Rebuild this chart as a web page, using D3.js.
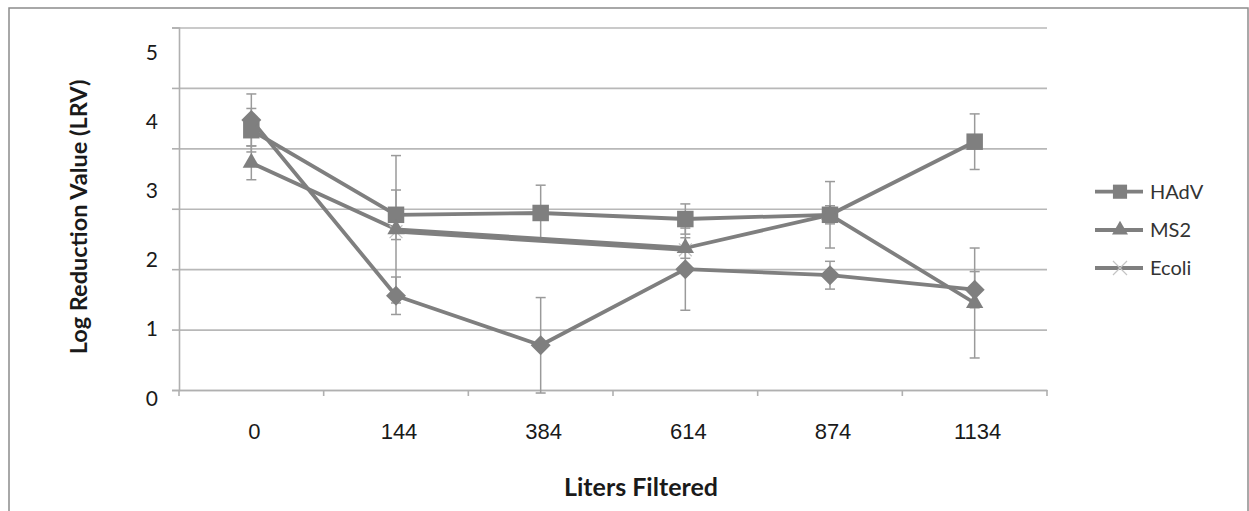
<!DOCTYPE html>
<html>
<head>
<meta charset="utf-8">
<script src="https://cdn.jsdelivr.net/npm/d3@7"></script>
<style>
  body { margin: 0; background: #fff; }
  svg { display: block; font-family: Lato, "Open Sans", sans-serif; }
</style>
</head>
<body>
<div id="chart"></div>
<script>
// Values (units of one gridline step)
const categories = ["0", "144", "384", "614", "874", "1134"];
const hadv = [4.30, 2.90, 2.93, 2.83, 2.90, 4.11];
const hadvErr = [0.36, 0.41, 0.46, 0.25, 0.55, 0.46];
const ms2 = [3.76, 2.66, null, 2.35, 2.90, 1.44];
const ms2Err = [0.28, 1.22, null, 0.17, 0.15, 0.91];
const ecoli = [null, 2.62, null, 2.32, null, null];
// diamond series, not listed in the legend
const series4 = [4.47, 1.56, 0.74, 2.00, 1.90, 1.66];
const series4Err = [0.43, 0.31, 0.79, 0.68, 0.23, 0.30];
const yTickLabels = ["0", "1", "2", "3", "4", "5"];
const legendNames = ["HAdV", "MS2", "Ecoli"];

const width = 1249, height = 511;
const margin = {top: 27.5, right: 202, bottom: 121, left: 179};

const grey = "#7f7f7f";

const svg = d3.select("#chart")
    .append("svg")
    .attr("width", width)
    .attr("height", height);

// chart border
svg.append("rect")
    .attr("x", 9).attr("y", 8)
    .attr("width", 1239).attr("height", 520)
    .attr("fill", "none")
    .attr("stroke", "#8c8c8c")
    .attr("stroke-width", 1.5);

const xScale = d3.scaleBand()
    .domain(categories)
    .range([margin.left, width - margin.right]);

const yScale = d3.scaleLinear()
    .domain([0, 6])
    .range([height - margin.bottom, margin.top]);

// the tick labels sit on their own spacing in the picture
const labelScale = d3.scaleLinear()
    .domain([0, 5])
    .range([398.3, 52.3]);

// gridlines
svg.append("g")
    .attr("class", "grid")
    .attr("transform", `translate(${margin.left},0)`)
    .call(d3.axisLeft(yScale).ticks(6).tickSize(-(width - margin.left - margin.right)).tickFormat(""))
    .call(g => g.select(".domain").remove())
    .call(g => g.selectAll("line").attr("stroke", "#b8b8b8").attr("stroke-width", 1.6));

// small left ticks
svg.append("g")
    .attr("transform", `translate(${margin.left},0)`)
    .call(d3.axisLeft(yScale).ticks(6).tickSize(7).tickFormat(""))
    .call(g => g.select(".domain").attr("stroke", "#b0b0b0").attr("stroke-width", 1.6))
    .call(g => g.selectAll("line").attr("stroke", "#b0b0b0").attr("stroke-width", 1.6));

// y labels
svg.append("g")
    .attr("transform", "translate(158,0)")
    .call(d3.axisLeft(labelScale).tickValues(d3.range(yTickLabels.length)).tickSize(0).tickPadding(0)
        .tickFormat(i => yTickLabels[i]))
    .call(g => g.select(".domain").remove())
    .call(g => g.selectAll("text")
        .attr("font-size", 21)
        .attr("font-family", "Lato, 'Open Sans', sans-serif")
        .attr("fill", "#1a1a1a"));

// x axis
const xAxisG = svg.append("g")
    .attr("transform", `translate(0,${height - margin.bottom})`)
    .call(d3.axisBottom(xScale).tickSize(0).tickPadding(0).tickFormat(""))
    .call(g => g.select(".domain").attr("stroke", "#b0b0b0").attr("stroke-width", 1.6))
    .call(g => g.selectAll(".tick").remove());

// x tick marks at category boundaries
const bounds = categories.map(c => xScale(c)).concat([xScale.range()[1]]);
xAxisG.selectAll("line.bound")
    .data(bounds)
    .join("line")
    .attr("class", "bound")
    .attr("x1", d => d).attr("x2", d => d)
    .attr("y1", 0).attr("y2", 6)
    .attr("stroke", "#b0b0b0")
    .attr("stroke-width", 1.6);

xAxisG.selectAll("text.cat")
    .data(categories)
    .join("text")
    .attr("class", "cat")
    .attr("x", d => xScale(d) + xScale.bandwidth() / 2 + 3)
    .attr("y", 49)
    .attr("text-anchor", "middle")
    .attr("font-size", 22)
    .attr("fill", "#1a1a1a")
    .text(d => d);

// axis titles
svg.append("text")
    .attr("x", 641)
    .attr("y", 496)
    .attr("text-anchor", "middle")
    .attr("font-size", 25)
    .attr("font-weight", "bold")
    .attr("fill", "#1a1a1a")
    .text("Liters Filtered");

svg.append("text")
    .attr("transform", "translate(87,217) rotate(-90)")
    .attr("text-anchor", "middle")
    .attr("font-size", 23.5)
    .attr("font-weight", "bold")
    .attr("fill", "#1a1a1a")
    .text("Log Reduction Value (LRV)");

const cx = i => xScale(categories[i]) + xScale.bandwidth() / 2;

const toPoints = (vals, errs) => vals
    .map((v, i) => ({i, v, e: errs ? errs[i] : null}))
    .filter(d => d.v !== null);

const allSeries = [
    {name: "HAdV", pts: toPoints(hadv, hadvErr), symbol: "square"},
    {name: "MS2", pts: toPoints(ms2, ms2Err), symbol: "triangle"},
    {name: "Ecoli", pts: toPoints(ecoli, null), symbol: "cross"},
    {name: "Series4", pts: toPoints(series4, series4Err), symbol: "diamond"}
];

const plot = svg.append("g");

// error bars
allSeries.forEach(s => {
    const eb = s.pts.filter(d => d.e);
    const g = plot.append("g").attr("stroke", "#9a9a9a").attr("stroke-width", 1.5);
    g.selectAll("line.v").data(eb).join("line")
        .attr("x1", d => cx(d.i)).attr("x2", d => cx(d.i))
        .attr("y1", d => yScale(d.v + d.e)).attr("y2", d => yScale(d.v - d.e));
    [1, -1].forEach(sign => {
        g.selectAll(`line.c${sign}`).data(eb).join("line")
            .attr("class", `c${sign}`)
            .attr("x1", d => cx(d.i) - 5).attr("x2", d => cx(d.i) + 5)
            .attr("y1", d => yScale(d.v + sign * d.e)).attr("y2", d => yScale(d.v + sign * d.e));
    });
});

const line = d3.line()
    .x(d => cx(d.i))
    .y(d => yScale(d.v));

const symbolPath = (type) => {
    if (type === "square") return d3.symbol(d3.symbolSquare, 272)();
    if (type === "triangle") return d3.symbol(d3.symbolTriangle, 130)();
    if (type === "diamond") return d3.symbol(d3.symbolSquare, 200)();
    return d3.symbol(d3.symbolX, 110)();
};

allSeries.forEach(s => {
    plot.append("path")
        .datum(s.pts)
        .attr("fill", "none")
        .attr("stroke", grey)
        .attr("stroke-width", 3.8)
        .attr("stroke-linejoin", "round")
        .attr("d", line);
});

// the light x markers sit underneath the filled ones
const markerOrder = ["Ecoli", "HAdV", "MS2", "Series4"];
markerOrder.forEach(name => {
    const s = allSeries.find(d => d.name === name);
    plot.selectAll(null)
        .data(s.pts)
        .join("path")
        .attr("transform", d => `translate(${cx(d.i)},${yScale(d.v)})` + (s.symbol === "diamond" ? " rotate(45)" : ""))
        .attr("d", symbolPath(s.symbol))
        .attr("fill", s.symbol === "cross" ? "none" : grey)
        .attr("stroke", s.symbol === "cross" ? "#c4c4c4" : "none")
        .attr("stroke-width", 1.2);
});

// legend
const legendY = [191.7, 230, 268];
const legend = svg.append("g");
legendNames.forEach((name, k) => {
    const s = allSeries.find(d => d.name === name);
    const g = legend.append("g").attr("transform", `translate(0,${legendY[k]})`);
    g.append("line")
        .attr("x1", 1095).attr("x2", 1143)
        .attr("stroke", grey).attr("stroke-width", 3.8);
    g.append("path")
        .attr("transform", "translate(1120,0)")
        .attr("d", s.symbol === "square" ? d3.symbol(d3.symbolSquare, 200)() :
            s.symbol === "triangle" ? d3.symbol(d3.symbolTriangle, 110)() : d3.symbol(d3.symbolX, 130)())
        .attr("fill", s.symbol === "cross" ? "none" : grey)
        .attr("stroke", s.symbol === "cross" ? "#c4c4c4" : "none")
        .attr("stroke-width", 1.2);
    g.append("text")
        .attr("x", 1150)
        .attr("dy", "0.35em")
        .attr("font-size", 20)
        .attr("fill", "#333")
        .text(name);
});
</script>
</body>
</html>
